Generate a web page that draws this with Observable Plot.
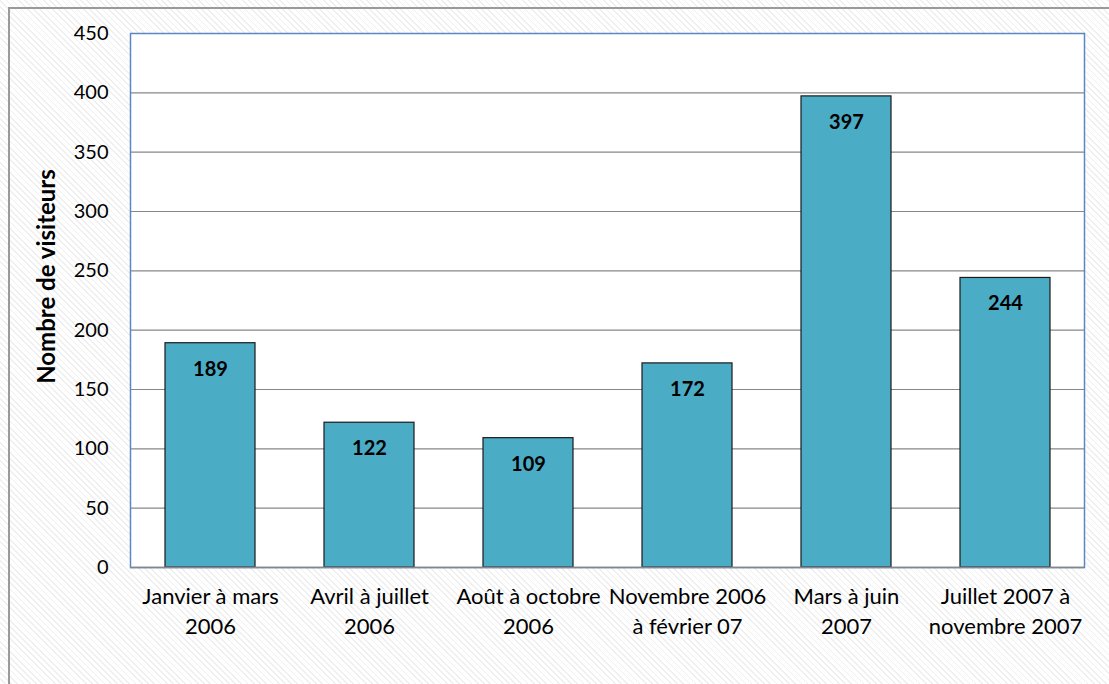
<!DOCTYPE html>
<html>
<head>
<meta charset="utf-8">
<script src="https://cdn.jsdelivr.net/npm/d3@7"></script>
<script src="https://cdn.jsdelivr.net/npm/@observablehq/plot@0.6"></script>
<style>
  html, body { margin: 0; padding: 0; background: #fff; }
  #wrap {
    position: relative; width: 1109px; height: 684px; overflow: hidden;
    background: repeating-linear-gradient(45deg, #ffffff 0px, #ffffff 3.2px, #efefef 3.2px, #efefef 4.4px);
  }
  #border {
    position: absolute; left: 8px; top: 7px; width: 1120px; height: 700px;
    border: 2px solid #9a9a9a; box-sizing: border-box;
  }
  #chart { position: absolute; left: 0; top: 0; }
</style>
</head>
<body>
<div id="wrap"><div id="border"></div><div id="chart"></div></div>
<script>
const categories = [
  "Janvier à mars\n2006",
  "Avril à juillet\n2006",
  "Août à octobre\n2006",
  "Novembre 2006\nà février 07",
  "Mars à juin\n2007",
  "Juillet 2007 à\nnovembre 2007"
];
const values = [189, 122, 109, 172, 397, 244];
const yTicks = [0, 50, 100, 150, 200, 250, 300, 350, 400, 450];
const yLabel = "Nombre de visiteurs";

const data = categories.map((c, i) => ({category: c, value: values[i]}));
const font = "Lato, 'Open Sans', sans-serif";

const chart = Plot.plot({
  width: 1109,
  height: 684,
  marginLeft: 130,
  marginRight: 25,
  marginTop: 33,
  marginBottom: 117,
  style: {background: "transparent", fontFamily: font, fontSize: "20px", color: "#000"},
  x: {domain: categories, paddingInner: 0.434, paddingOuter: 0.217},
  y: {domain: [0, 450]},
  marks: [
    Plot.frame({fill: "white", stroke: "none"}),
    Plot.ruleY(yTicks.filter(d => d > 0 && d < 450), {stroke: "#878787", strokeWidth: 1.2}),
    Plot.barY(data, {x: "category", y: "value", fill: "#4BACC6", stroke: "#1a1a1a", strokeWidth: 1.2}),
    Plot.frame({stroke: "#5B86C5", strokeWidth: 1.5}),
    Plot.ruleX([0], {frameAnchor: "left", stroke: "#878787", strokeWidth: 1.5}),
    Plot.ruleY([0], {stroke: "#878787", strokeWidth: 1.5}),
    Plot.text(data, {x: "category", y: "value", text: d => String(d.value), dy: 26, fontWeight: "bold", fontSize: 20, fill: "#000"}),
    Plot.axisY({ticks: yTicks, tickSize: 0, tickPadding: 22, fontSize: 20, label: null}),
    Plot.axisX({tickSize: 0, tickPadding: 15, fontSize: 22, lineHeight: 1.36, label: null}),
    Plot.text([yLabel], {frameAnchor: "left", textAnchor: "middle", text: d => d, rotate: -90, dx: -83, dy: -24, fontWeight: "bold", fontSize: 24, fill: "#000"})
  ]
});
document.getElementById("chart").appendChild(chart);
</script>
</body>
</html>
